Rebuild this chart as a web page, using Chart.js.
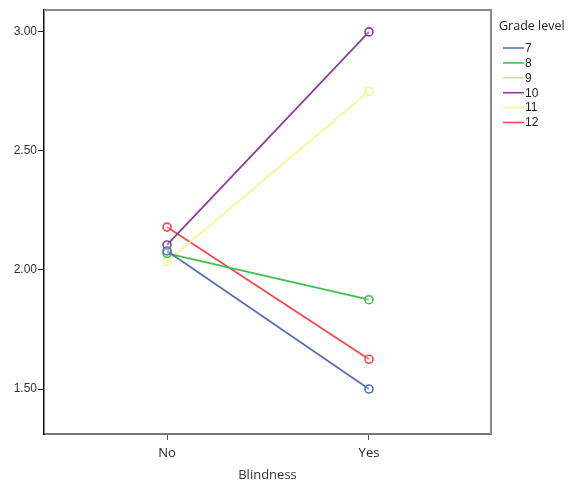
<!DOCTYPE html>
<html><head><meta charset="utf-8">
<script src="https://cdn.jsdelivr.net/npm/chart.js@4/dist/chart.umd.min.js"></script>
<style>html,body{margin:0;padding:0;background:#fff}#wrap{width:578px;height:483px}</style>
</head><body><div id="wrap"><canvas id="c" width="578" height="483"></canvas></div>
<script>
const categories = ["No", "Yes"];
const grades = ["7", "8", "9", "10", "11", "12"];
const colors = ["#5a6fb8", "#3fbf4f", "#dcd8a8", "#8a3f96", "#f8f48c", "#f04a4e"];
const grade7 = [2.08, 1.50];
const grade8 = [2.07, 1.875];
const grade9 = [null, null];
const grade10 = [2.105, 3.00];
const grade11 = [2.035, 2.75];
const grade12 = [2.18, 1.625];
const yTicks = [1.5, 2.0, 2.5, 3.0];
const series = [grade7, grade8, grade9, grade10, grade11, grade12];

const datasets = series.map((vals, i) => ({
  label: grades[i],
  data: vals.map((v, j) => ({x: j, y: v})),
  borderColor: colors[i],
  backgroundColor: 'rgba(255,255,255,0)',
  borderWidth: 1.8,
  pointRadius: 4,
  pointBorderWidth: 1.6,
  pointBorderColor: colors[i],
  pointBackgroundColor: 'rgba(255,255,255,0.3)',
  fill: false,
  tension: 0
}));

const legendPlugin = {
  id: 'customLegend',
  afterDraw(chart) {
    const ctx = chart.ctx;
    ctx.save();
    ctx.fillStyle = '#222';
    ctx.font = '12.5px "Open Sans", sans-serif';
    ctx.textBaseline = 'middle';
    ctx.textAlign = 'left';
    ctx.fillText('Grade level', 499, 26);
    ctx.font = '12px "Liberation Sans", Arial, sans-serif';
    grades.forEach((g, i) => {
      const y = 48 + i * 14.9;
      ctx.strokeStyle = colors[i];
      ctx.lineWidth = 1.6;
      ctx.beginPath(); ctx.moveTo(503, y); ctx.lineTo(524, y); ctx.stroke();
      ctx.fillStyle = '#222';
      ctx.fillText(g, 525, y + 0.5);
    });
    const a = chart.chartArea;
    ctx.strokeStyle = '#8a8a8a';
    ctx.lineWidth = 2;
    ctx.beginPath();
    ctx.moveTo(a.left, a.top); ctx.lineTo(a.right, a.top); ctx.lineTo(a.right, a.bottom);
    ctx.stroke();
    ctx.restore();
  }
};

new Chart(document.getElementById('c'), {
  type: 'line',
  data: { datasets },
  options: {
    responsive: false,
    animation: false,
    devicePixelRatio: 1,
    layout: { padding: { top: 10, right: 87, left: 0, bottom: 0 } },
    plugins: { legend: { display: false }, tooltip: { enabled: false } },
    scales: {
      x: {
        type: 'linear',
        min: -0.609,
        max: 1.604,
        afterBuildTicks: s => { s.ticks = categories.map((c, i) => ({value: i})); },
        afterFit: s => { s.height = 49; },
        ticks: {
          callback: v => categories[v],
          color: '#222',
          font: { family: '"Open Sans", sans-serif', size: 13 },
          padding: 5,
          maxRotation: 0
        },
        grid: { drawOnChartArea: false, tickLength: 6, color: '#555', tickWidth: 1 },
        border: { color: '#777', width: 2 },
        title: {
          display: true, text: 'Blindness', color: '#333',
          font: { family: '"Open Sans", sans-serif', size: 13 },
          padding: { top: 5, bottom: 0 }
        }
      },
      y: {
        type: 'linear',
        min: 1.311,
        max: 3.092,
        afterBuildTicks: s => { s.ticks = yTicks.map(v => ({value: v})); },
        afterFit: s => { s.width = 44; },
        ticks: {
          callback: v => Number(v).toFixed(2),
          color: '#333',
          font: { family: '"Liberation Sans", Arial, sans-serif', size: 12 },
          padding: 1
        },
        grid: { drawOnChartArea: false, tickLength: 6, color: '#222', tickWidth: 1 },
        border: { color: '#111', width: 1.5 }
      }
    }
  },
  plugins: [legendPlugin]
});
</script></body></html>
